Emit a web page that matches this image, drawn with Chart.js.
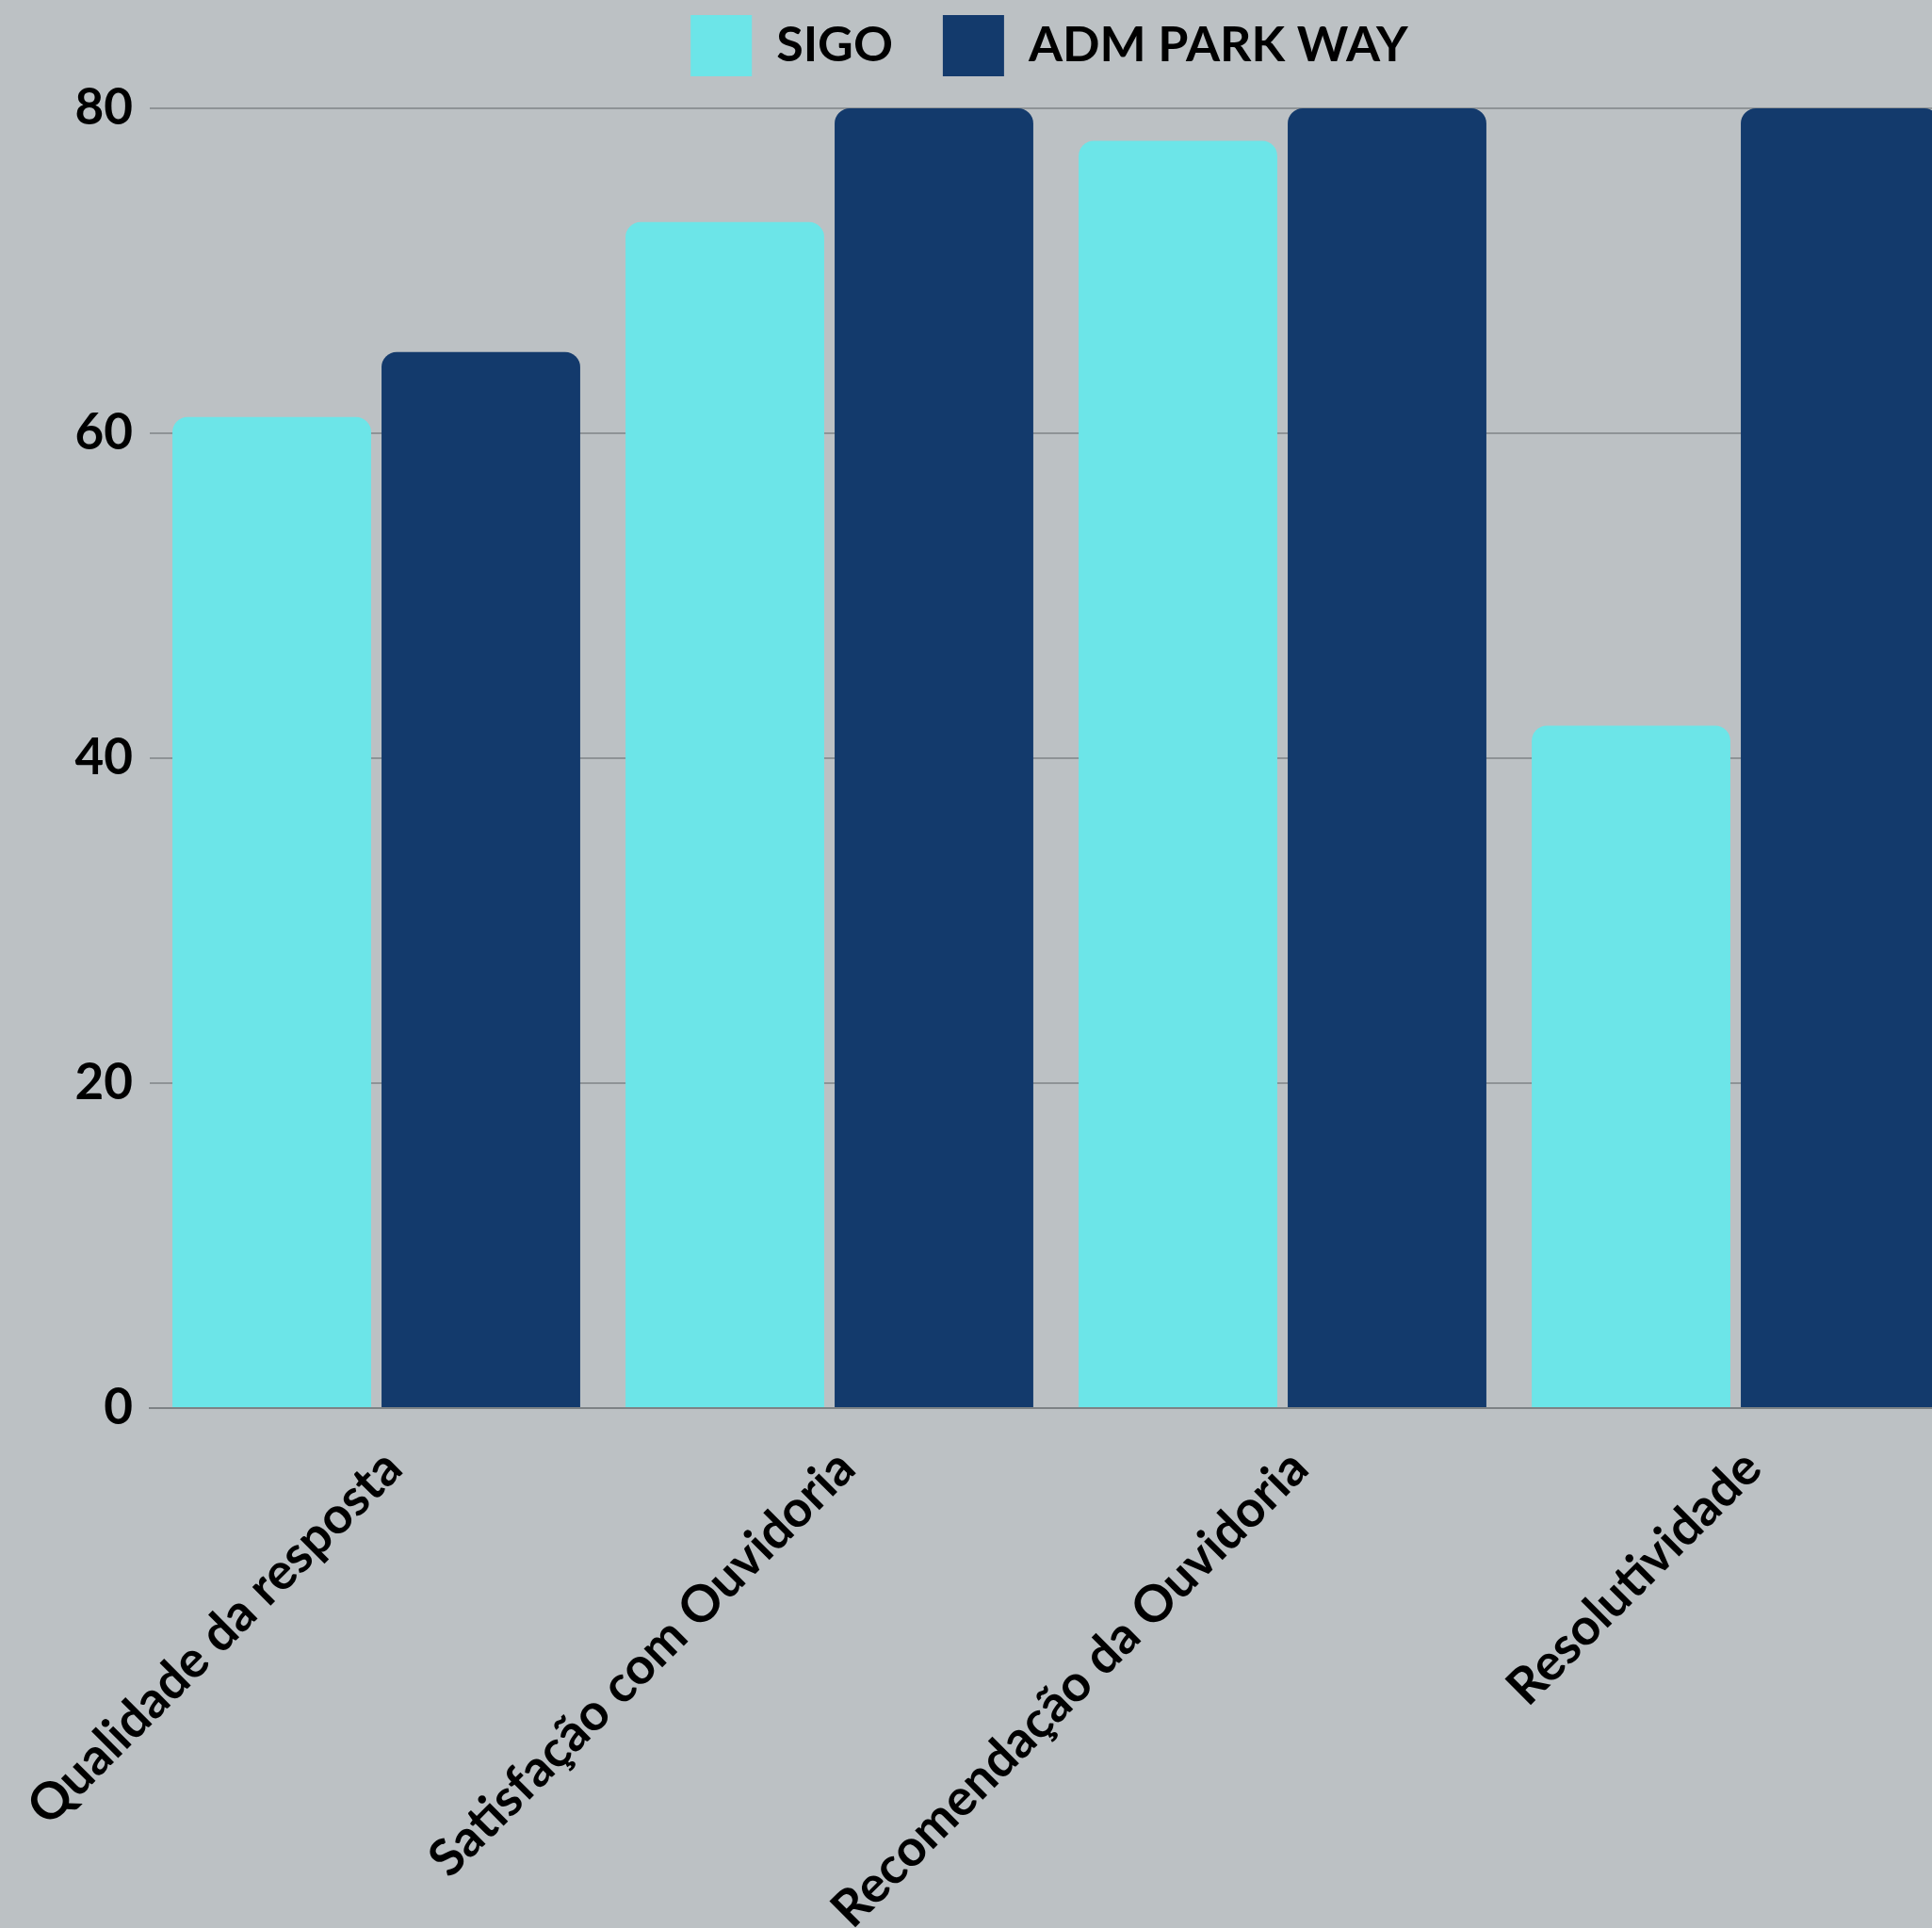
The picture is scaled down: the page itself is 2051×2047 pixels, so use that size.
<!DOCTYPE html>
<html>
<head>
<meta charset="utf-8">
<script src="https://cdn.jsdelivr.net/npm/chart.js@4/dist/chart.umd.min.js"></script>
<style>
  html, body { margin: 0; padding: 0; background: #BCC1C4; overflow: hidden; }
  #wrap { position: relative; width: 2228px; height: 2047px; }
</style>
</head>
<body>
<div id="wrap"><canvas id="c"></canvas></div>
<script>
const categories = ["Qualidade da resposta", "Satisfação com Ouvidoria", "Recomendação da Ouvidoria", "Resolutividade"];
const seriesNames = ["SIGO", "ADM PARK WAY"];
const sigoValues = [61, 73, 78, 42];
const admValues = [65, 80, 80, 80];
const yTicks = [0, 20, 40, 60, 80];

const FONT = "Lato, 'DejaVu Sans', sans-serif";

const legendHeightPlugin = {
  id: 'legendHeight',
  beforeLayout(chart) {
    const lg = chart.legend;
    if (lg && !lg._patched) {
      const origFit = lg.fit.bind(lg);
      lg.fit = function () { origFit(); this.height = 152; };
      lg._patched = true;
    }
  }
};

new Chart(document.getElementById('c'), {
  type: 'bar',
  data: {
    labels: categories,
    datasets: [
      { label: seriesNames[0], data: sigoValues, backgroundColor: '#6CE5E8' },
      { label: seriesNames[1], data: admValues, backgroundColor: '#133A6C' }
    ]
  },
  plugins: [legendHeightPlugin],
  options: {
    responsive: true,
    maintainAspectRatio: false,
    devicePixelRatio: 1,
    animation: false,
    layout: { padding: { top: -37, left: 0, right: 0, bottom: 0 } },
    datasets: {
      bar: {
        barPercentage: 0.95,
        categoryPercentage: 0.923,
        borderRadius: 16,
        borderSkipped: 'start'
      }
    },
    plugins: {
      legend: {
        position: 'top',
        align: 'center',
        fullSize: true,
        labels: {
          boxWidth: 65,
          boxHeight: 65,
          padding: 53,
          color: '#000',
          font: { family: FONT, size: 52, weight: 'bold' }
        }
      },
      tooltip: { enabled: false }
    },
    scales: {
      x: {
        offset: true,
        grid: { display: false, drawTicks: false },
        border: { display: true, color: '#7d8285', width: 2 },
        ticks: {
          color: '#000',
          maxRotation: 45,
          minRotation: 45,
          autoSkip: false,
          padding: 32,
          labelOffset: 18,
          font: { family: FONT, size: 54, weight: 'bold' }
        },
        afterFit: (s) => { s.height = 552; s.paddingLeft = 0; s.paddingRight = 0; }
      },
      y: {
        min: 0,
        max: 80,
        afterBuildTicks: (s) => { s.ticks = yTicks.map(v => ({ value: v })); },
        grid: { color: '#8e9396', lineWidth: 2, drawTicks: false },
        border: { display: false },
        ticks: {
          color: '#000',
          padding: 18,
          font: { family: FONT, size: 53, weight: 'bold' }
        },
        afterFit: (s) => { s.width = 159; }
      },
      spacer: {
        type: 'linear',
        position: 'right',
        display: true,
        grid: { display: false, drawTicks: false },
        border: { display: false },
        ticks: { display: false },
        afterFit: (s) => { s.width = 145; }
      }
    }
  }
});
</script>
</body>
</html>
